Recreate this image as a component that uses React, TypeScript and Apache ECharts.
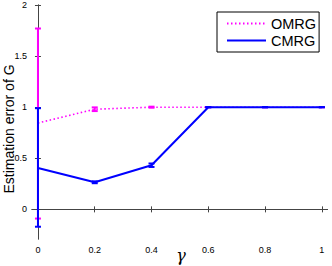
import React, { useEffect, useRef } from "react";
import * as echarts from "echarts";

const gammas = [0, 0.2, 0.4, 0.6, 0.8, 1];
const omrgMean = [0.845, 0.98, 1.0, 1.0, 1.0, 1.0];
const omrgLow = [-0.09, 0.962, 0.995, 1.0, 1.0, 1.0];
const omrgHigh = [1.77, 0.998, 1.005, 1.0, 1.0, 1.0];
const cmrgMean = [0.405, 0.265, 0.432, 1.0, 1.0, 1.0];
const cmrgLow = [-0.17, 0.256, 0.415, 1.0, 1.0, 1.0];
const cmrgHigh = [0.99, 0.274, 0.449, 1.0, 1.0, 1.0];
const xTicks = [0, 0.2, 0.4, 0.6, 0.8, 1];
const yTicks = [0, 0.5, 1, 1.5, 2];
const seriesNames = ["OMRG", "CMRG"];

const FONT = "Liberation Sans, Arial, Helvetica, sans-serif";
const AXIS_COLOR = "#444";

function errorBars(color: string) {
  return (params: any, api: any) => {
    const x = api.value(0);
    const lo = api.coord([x, api.value(1)]);
    const hi = api.coord([x, api.value(2)]);
    const w = 3;
    const style = { stroke: color, lineWidth: 2 };
    return {
      type: "group",
      children: [
        { type: "line", shape: { x1: lo[0], y1: lo[1], x2: hi[0], y2: hi[1] }, style },
        { type: "line", shape: { x1: lo[0] - w, y1: lo[1], x2: lo[0] + w, y2: lo[1] }, style },
        { type: "line", shape: { x1: hi[0] - w, y1: hi[1], x2: hi[0] + w, y2: hi[1] }, style },
      ],
    };
  };
}

export default function App() {
  const ref = useRef<HTMLDivElement>(null);
  useEffect(() => {
    if (!ref.current) return;
    const chart = echarts.init(ref.current, undefined, { renderer: "svg" });
    const xBase = {
      type: "value",
      min: -0.021,
      max: 1.02,
      axisLine: { show: true, lineStyle: { color: AXIS_COLOR, width: 1 } },
      splitLine: { show: false },
    };
    const yBase = {
      type: "value",
      min: -0.29,
      max: 2,
      axisLine: { show: true, lineStyle: { color: AXIS_COLOR, width: 1 } },
      splitLine: { show: false },
    };
    chart.setOption({
      animation: false,
      grid: { left: 32, right: 4.5, top: 5, bottom: 27, containLabel: false },
      xAxis: [
        {
          ...xBase,
          position: "bottom",
          axisTick: { show: true, inside: true, length: 3, customValues: xTicks, lineStyle: { color: AXIS_COLOR } },
          axisLabel: {
            show: true,
            customValues: xTicks,
            fontSize: 9,
            fontFamily: FONT,
            color: "#000",
            margin: 6,
            formatter: (v: number) => String(v),
          },
        },
        {
          ...xBase,
          position: "top",
          axisTick: { show: true, inside: true, length: 3, customValues: xTicks, lineStyle: { color: AXIS_COLOR } },
          axisLabel: { show: false },
        },
      ],
      yAxis: [
        {
          ...yBase,
          position: "left",
          axisTick: { show: true, inside: true, length: 3, customValues: yTicks, lineStyle: { color: AXIS_COLOR } },
          axisLabel: {
            show: true,
            customValues: yTicks,
            fontSize: 9,
            fontFamily: FONT,
            color: "#000",
            margin: 5,
            formatter: (v: number) => String(v),
          },
        },
        {
          ...yBase,
          position: "right",
          axisTick: { show: true, inside: true, length: 3, customValues: yTicks, lineStyle: { color: AXIS_COLOR } },
          axisLabel: { show: false },
        },
      ],
      legend: {
        data: seriesNames,
        orient: "vertical",
        left: 217,
        top: 12,
        padding: [4, 3, 4, 9],
        itemGap: 2,
        itemWidth: 39,
        itemHeight: 14,
        borderColor: "#000",
        borderWidth: 1,
        backgroundColor: "#fff",
        itemStyle: { opacity: 0 },
        textStyle: { fontSize: 14.5, fontFamily: FONT, color: "#000", padding: [0, 0, 0, 0] },
      },
      graphic: [
        {
          type: "text",
          x: 9,
          y: 129,
          rotation: Math.PI / 2,
          style: {
            text: "Estimation error of G",
            fontSize: 14,
            fontFamily: FONT,
            fill: "#000",
            textAlign: "center",
            textVerticalAlign: "middle",
          },
        },
        {
          type: "text",
          x: 181,
          y: 255,
          style: {
            text: "γ",
            fontSize: 16,
            fontFamily: "DejaVu Serif, serif",
            fontStyle: "italic",
            fill: "#000",
            textAlign: "center",
            textVerticalAlign: "middle",
          },
        },
      ],
      series: [
        {
          name: seriesNames[0],
          type: "line",
          data: gammas.map((g, i) => [g, omrgMean[i]]),
          symbol: "none",
          lineStyle: { color: "#ff00ff", width: 1.6, type: [1.5, 2.5] },
          itemStyle: { color: "#ff00ff" },
          z: 2,
        },
        {
          name: "OMRG-err",
          type: "custom",
          renderItem: errorBars("#ff00ff"),
          data: gammas.map((g, i) => [g, omrgLow[i], omrgHigh[i]]),
          encode: { x: 0, y: [1, 2] },
          clip: false,
          z: 2,
        },
        {
          name: seriesNames[1],
          type: "line",
          data: gammas.map((g, i) => [g, cmrgMean[i]]),
          symbol: "none",
          lineStyle: { color: "#0000ff", width: 2, type: "solid" },
          itemStyle: { color: "#0000ff" },
          z: 3,
        },
        {
          name: "CMRG-err",
          type: "custom",
          renderItem: errorBars("#0000ff"),
          data: gammas.map((g, i) => [g, cmrgLow[i], cmrgHigh[i]]),
          encode: { x: 0, y: [1, 2] },
          clip: false,
          z: 3,
        },
      ],
    });
    return () => chart.dispose();
  }, []);
  return <div ref={ref} style={{ width: 332, height: 266, position: "absolute", left: 0, top: 0 }} />;
}
